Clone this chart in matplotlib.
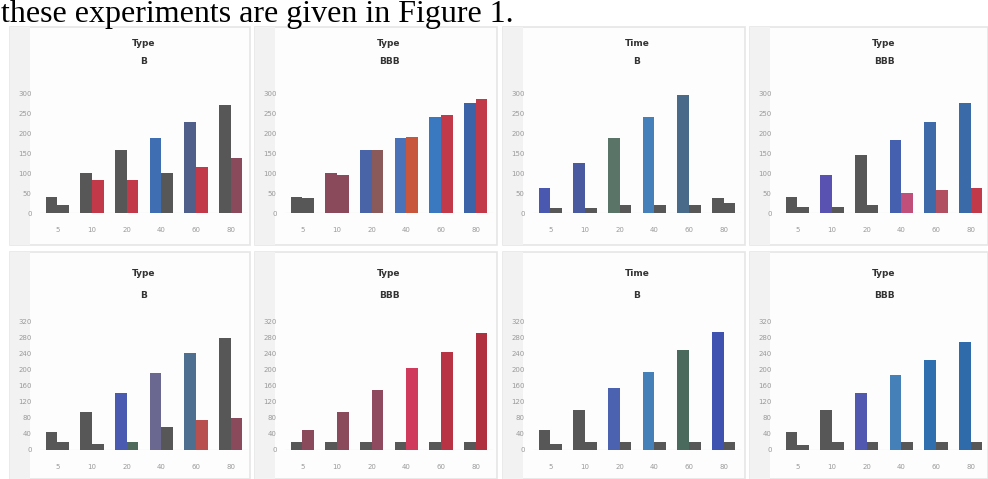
import matplotlib
matplotlib.use("Agg")
import matplotlib.pyplot as plt
from matplotlib.patches import Rectangle
import numpy as np

W, H = 988, 479

groups = ["5", "10", "20", "40", "60", "80"]

titles = ["Type\nB", "Type\nBBB", "Time\nB", "Type\nBBB",
          "Type\nB", "Type\nBBB", "Time\nB", "Type\nBBB"]

# first bar of each group
a1 = [40, 100, 158, 188, 228, 270]
a2 = [40, 100, 158, 188, 240, 275]
a3 = [62, 125, 188, 240, 295, 38]
a4 = [40, 95, 145, 182, 228, 275]
a5 = [45, 95, 142, 192, 242, 280]
a6 = [20, 20, 20, 20, 20, 20]
a7 = [50, 100, 155, 195, 250, 295]
a8 = [45, 100, 142, 188, 225, 270]
# second bar of each group
b1 = [20, 83, 83, 100, 115, 138]
b2 = [38, 95, 158, 190, 245, 285]
b3 = [12, 12, 20, 20, 20, 25]
b4 = [15, 15, 20, 50, 58, 62]
b5 = [20, 15, 20, 58, 75, 80]
b6 = [50, 95, 150, 205, 245, 292]
b7 = [15, 20, 20, 20, 20, 20]
b8 = [12, 20, 20, 20, 20, 20]

G = "#575757"
BL = "#3f6fb2"
RD = "#c23a4a"
MR = "#8a4a5c"
ca1 = [G, G, G, BL, "#4f5f8a", G]
cb1 = [G, RD, RD, G, RD, MR]
ca2 = [G, MR, "#4a64a8", "#4a72b8", "#3a78c0", "#3c62a8"]
cb2 = [G, MR, "#8a5a5a", "#c8563c", RD, RD]
ca3 = ["#4a58b0", "#4a5aa0", "#5a7468", "#4580bb", "#4a6a8a", G]
cb3 = [G, G, G, G, G, G]
ca4 = [G, "#5a52b0", G, "#4660b0", "#3f6aaa", "#3a6aa8"]
cb4 = [G, G, G, "#c0507a", "#b05060", RD]
ca5 = [G, G, "#4a5ab0", "#6a6890", "#4f6f90", G]
cb5 = [G, G, "#4f6a5a", G, "#b85050", MR]
ca6 = [G, G, G, G, G, G]
cb6 = [MR, MR, "#904a60", "#d03a5c", "#b83444", "#b03040"]
ca7 = [G, G, "#4a62b0", "#4680b8", "#4a6a5e", "#3f52b0"]
cb7 = [G, G, G, G, G, G]
ca8 = [G, G, "#5058b0", "#4680b8", "#2f6faf", "#2f6aaa"]
cb8 = [G, G, G, G, G, G]

A = [a1, a2, a3, a4, a5, a6, a7, a8]
B = [b1, b2, b3, b4, b5, b6, b7, b8]
CA = [ca1, ca2, ca3, ca4, ca5, ca6, ca7, ca8]
CB = [cb1, cb2, cb3, cb4, cb5, cb6, cb7, cb8]

fig = plt.figure(figsize=(W / 100, H / 100), dpi=100)
fig.patch.set_facecolor("white")

def fx(px):
    return px / W

def fy(py):
    return 1 - py / H

# top sentence
fig.text(fx(1), fy(22), "these experiments are given in Figure 1.",
         family=["Liberation Serif", "DejaVu Serif"], fontsize=23,
         ha="left", va="baseline", color="black", zorder=5)

cols = [(10, 250), (255, 497), (503, 745), (750, 988)]
rows = [dict(top=27, bot=245, base=213, axtop=80, t1=43, t2=62, step=50),
        dict(top=252, bot=479, base=450, axtop=315, t1=274, t2=296, step=40)]

for i in range(8):
    r = rows[i // 4]
    x0, x1 = cols[i % 4]
    # panel frame
    fig.patches.append(Rectangle((fx(x0), fy(r["bot"])), fx(x1 - x0), (r["bot"] - r["top"]) / H,
                                 transform=fig.transFigure, facecolor="#fdfdfd",
                                 edgecolor="#e6e6e6", lw=1.2, zorder=-5))
    fig.patches.append(Rectangle((fx(x0), fy(r["bot"])), fx(20), (r["bot"] - r["top"]) / H,
                                 transform=fig.transFigure, facecolor="#f2f2f2",
                                 edgecolor="none", zorder=-4))
    ax_l = x0 + 30
    ax_w = 208
    ax = fig.add_axes([fx(ax_l), fy(r["base"]), fx(ax_w), (r["base"] - r["axtop"]) / H])
    ax.set_zorder(3)
    ax.set_facecolor("none")
    h_px = r["base"] - r["axtop"]
    ax.set_ylim(0, h_px * 2.5)
    ax.set_xlim(-0.5, 5.5)
    x = np.arange(len(groups))
    w = 0.34
    ax.bar(x - w / 2, A[i], width=w, color=CA[i], zorder=2)
    ax.bar(x + w / 2, B[i], width=w, color=CB[i], zorder=2)
    ax.set_xticks(x)
    ax.set_xticklabels(groups, fontsize=5, color="#9a9a9a")
    ax.set_yticks(np.arange(0, h_px * 2.5, r["step"]))
    ax.tick_params(axis="y", labelsize=5, labelcolor="#9a9a9a", length=0, pad=6)
    ax.tick_params(axis="x", length=0, pad=10)
    for s in ax.spines.values():
        s.set_visible(False)
    ax.axhline(0, color="#d8d8d8", lw=0.8, zorder=1)
    t1, t2 = titles[i].split("\n")
    cx = fx(ax_l + ax_w / 2)
    fig.text(cx, fy(r["t1"]), t1, ha="center", va="center", fontsize=6.5,
             fontweight="bold", color="#333333", zorder=5)
    fig.text(cx, fy(r["t2"]), t2, ha="center", va="center", fontsize=6.5,
             fontweight="bold", color="#333333", zorder=5)

fig.savefig("out.png", dpi=100, facecolor="white")
